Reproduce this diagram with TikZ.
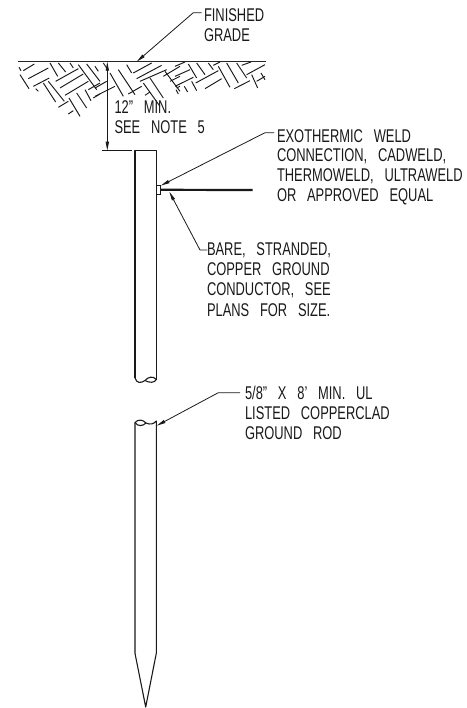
\documentclass[tikz,border=0pt]{standalone}
\usepackage{fontspec}
\setmainfont[FakeStretch=0.70,WordSpace=3]{Liberation Sans}
\usetikzlibrary{arrows.meta}
\tikzset{
 lbl/.style={anchor=base west,inner sep=0pt,outer sep=0pt,font=\fontsize{18.5}{20}\selectfont,text=black!90},
 leader/.style={line width=0.8bp,black!90,-{Triangle[length=9bp,width=3.2bp]}},
 rod/.style={line width=1.1bp,black!90,line join=round},
 hatchline/.style={line width=0.95bp,black!90},
}
\begin{document}
\begin{tikzpicture}[x=1bp,y=-1bp]
\useasboundingbox (0,0) rectangle (467,708);
% labels
\node[lbl] (fg1) at (204,21.7) {FINISHED};
\node[lbl] (fg2) at (204,41.7) {GRADE};
\node[lbl] (d1) at (114.5,113.5) {12" MIN.};
\node[lbl] (d2) at (114.5,134) {SEE NOTE 5};
\node[lbl] (e1) at (277,142.7) {EXOTHERMIC WELD};
\node[lbl] (e2) at (277,161.7) {CONNECTION, CADWELD,};
\node[lbl] (e3) at (277,181.7) {THERMOWELD, ULTRAWELD};
\node[lbl] (e4) at (277,201.7) {OR APPROVED EQUAL};
\node[lbl] (b1) at (207,255) {BARE, STRANDED,};
\node[lbl] (b2) at (207,275.7) {COPPER GROUND};
\node[lbl] (b3) at (207,295.7) {CONDUCTOR, SEE};
\node[lbl] (b4) at (207,316.7) {PLANS FOR SIZE.};
\node[lbl] (r1) at (245,399.3) {5/8" X 8' MIN. UL};
\node[lbl] (r2) at (245,419.3) {LISTED COPPERCLAD};
\node[lbl] (r3) at (245,439.3) {GROUND ROD};
% ground
\draw[line width=1.3bp,black!85] (18,61.7) -- (266,61.7);
\begin{scope}[shift={(15,58)},x=0.3333bp,y=-0.3333bp]
\foreach \a/\b/\c/\d in {
 25/38/58/18,40/62/100/30,55/85/103/60,122/70/190/32,135/90/205/48,150/112/220/70,
 130/148/160/130,160/168/175/158,220/95/255/75,235/120/255/108,
 15/50/42/92,12/28/18/38,62/92/70/100,85/75/122/132,100/70/148/130,
 105/15/128/55,130/15/152/42,165/15/175/30,190/20/245/95,215/18/255/70,
 162/120/195/175,185/105/215/150,210/95/228/128}
 \draw[hatchline] (\a,\b) -- (\c,\d);
\end{scope}
\begin{scope}[shift={(95,58)},x=0.3333bp,y=-0.3333bp]
\foreach \a/\b/\c/\d in {
 0/90/35/70,0/115/60/85,115/45/170/15,125/62/200/22,135/70/215/35,100/108/140/85,
 150/112/165/102,225/70/255/55,245/90/255/85,205/55/255/25,
 0/25/10/40,25/15/35/30,45/45/85/115,70/35/120/110,95/20/110/45,
 165/60/205/120,145/75/195/145,210/40/255/100}
 \draw[hatchline] (\a,\b) -- (\c,\d);
\end{scope}
\begin{scope}[shift={(175,58)},x=0.3333bp,y=-0.3333bp]
\foreach \a/\b/\c/\d in {
 0/25/30/12,0/55/45/35,0/85/55/58,62/75/130/38,90/92/140/62,178/92/225/68,
 215/50/270/20,245/70/270/55,115/22/135/12,200/22/228/12,
 40/18/65/60,65/15/90/50,100/15/115/35,130/25/165/88,155/15/190/75,185/15/215/60,
 230/50/248/90,258/45/270/65,50/70/65/98,28/85/38/102,3/95/10/108}
 \draw[hatchline] (\a,\b) -- (\c,\d);
\end{scope}
% rod
\draw[rod] (135,378) -- (135,150.7) -- (156.3,150.7) -- (156.3,379.5);
\draw[rod] (135,378) .. controls (137,384) and (141,383) .. (145,380.5)
  .. controls (148,377) and (153,375.5) .. (156.3,379.5);
\draw[rod] (145,380.5) .. controls (149,383) and (155,383) .. (156.3,379.5);
\draw[rod] (135,422.5) .. controls (138,419) and (143,419.5) .. (146,423)
  .. controls (150,425) and (154,424) .. (156.3,421)
  -- (156.3,653.3) -- (145.7,707) -- (135,653.3) -- cycle;
\draw[rod] (135,422.5) .. controls (138,427) and (143,426) .. (146,423);
% weld and conductor
\node[draw=black!90,fill=white,line width=0.8bp,minimum width=4bp,minimum height=8.3bp,inner sep=0pt,outer sep=0pt] (weld) at (158.7,189.8) {};
\coordinate (condend) at (252.7,190);
\draw[line width=2.2bp,black!90] (weld.east) -- (condend);
% leaders
\coordinate (fgA) at (201.7,12.7); \coordinate (fgB) at (193.3,12.7); \coordinate (fgT) at (136.7,61.7);
\draw[leader] (fgA) -- (fgB) -- (fgT);
\coordinate (eA) at (274,132.7); \coordinate (eB) at (265,132.7);
\draw[leader] (eA) -- (eB) -- (weld.north east);
\coordinate (bA) at (207.3,250); \coordinate (bB) at (200,250); \coordinate (bT) at (169.3,191.7);
\draw[leader] (bA) -- (bB) -- (bT);
\coordinate (rA) at (240,392.7); \coordinate (rB) at (218.3,392.7); \coordinate (rT) at (156.7,425.7);
\draw[leader] (rA) -- (rB) -- (rT);
% dimension
\coordinate (dimT) at (107.3,61.7); \coordinate (dimB) at (107.3,150.7);
\coordinate (extA) at (101.7,150.7); \coordinate (extB) at (131.7,150.7);
\draw[leader,{Triangle[length=9bp,width=3.2bp]}-{Triangle[length=9bp,width=3.2bp]}] (dimT) -- (dimB);
\draw[line width=0.8bp,black!90] (extA) -- (extB);
\end{tikzpicture}
\end{document}
